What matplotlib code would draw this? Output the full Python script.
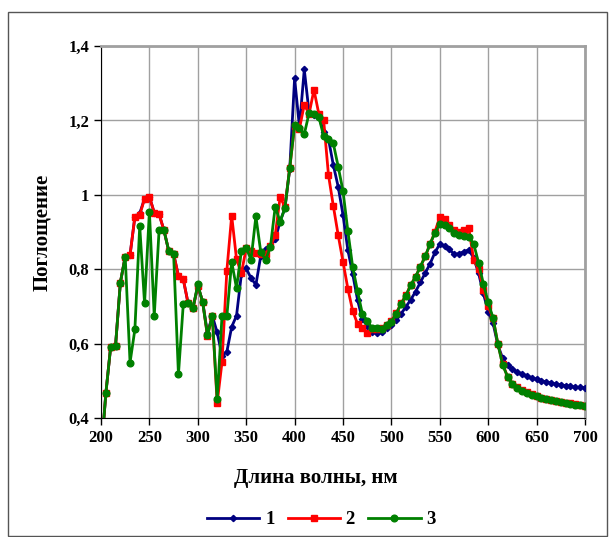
# -*- coding: utf-8 -*-
'''
Спектры поглощения трёх образцов (1, 2, 3), 200-700 нм
'''
import numpy as np
import matplotlib.pyplot as plt
from matplotlib.patches import Rectangle
from matplotlib.ticker import FuncFormatter

# длина волны, нм
WaveLen = np.arange(200, 705, 5)

# образец 1
Absorb1 = [0.30, 0.466, 0.592, 0.594, 0.764, 0.834, 0.838, 0.941, 0.95, 0.99,
           0.995, 0.952, 0.948, 0.905, 0.849, 0.841, 0.782, 0.773, 0.708, 0.695,
           0.755, 0.713, 0.628, 0.675, 0.63, 0.568, 0.578, 0.645, 0.675, 0.786,
           0.802, 0.776, 0.758, 0.835, 0.855, 0.862, 0.88, 0.928, 0.964, 1.07,
           1.313, 1.183, 1.337, 1.22, 1.215, 1.21, 1.17, 1.15, 1.08, 1.022,
           0.946, 0.852, 0.787, 0.718, 0.665, 0.648, 0.632, 0.628, 0.632, 0.641,
           0.65, 0.663, 0.68, 0.699, 0.718, 0.74, 0.765, 0.79, 0.815, 0.845,
           0.868, 0.862, 0.853, 0.84, 0.842, 0.847, 0.852, 0.83, 0.79, 0.735,
           0.686, 0.655, 0.596, 0.56, 0.542, 0.531, 0.524, 0.518, 0.513, 0.508,
           0.504, 0.5, 0.497, 0.494, 0.491, 0.489, 0.487, 0.485, 0.483, 0.482,
           0.481]
# образец 2
Absorb2 = [0.30, 0.466, 0.592, 0.594, 0.764, 0.834, 0.838, 0.941, 0.945, 0.99,
           0.995, 0.952, 0.948, 0.905, 0.849, 0.841, 0.782, 0.773, 0.708, 0.695,
           0.755, 0.713, 0.62, 0.675, 0.44, 0.55, 0.796, 0.944, 0.827, 0.789,
           0.856, 0.85, 0.844, 0.841, 0.84, 0.862, 0.892, 0.993, 0.968, 1.072,
           1.186, 1.178, 1.242, 1.218, 1.282, 1.218, 1.201, 1.053, 0.97, 0.892,
           0.82, 0.748, 0.688, 0.653, 0.641, 0.629, 0.638, 0.64, 0.642, 0.651,
           0.662, 0.682, 0.708, 0.73, 0.758, 0.78, 0.807, 0.835, 0.868, 0.9,
           0.941, 0.935, 0.92, 0.905, 0.9, 0.905, 0.91, 0.825, 0.8, 0.745,
           0.7, 0.668, 0.599, 0.545, 0.511, 0.491, 0.482, 0.475, 0.469, 0.464,
           0.459, 0.455, 0.452, 0.449, 0.446, 0.443, 0.441, 0.439, 0.437, 0.435,
           0.433]
# образец 3
Absorb3 = [0.30, 0.466, 0.592, 0.594, 0.764, 0.834, 0.549, 0.638, 0.916, 0.708,
           0.955, 0.674, 0.905, 0.905, 0.849, 0.841, 0.517, 0.706, 0.708, 0.695,
           0.759, 0.711, 0.622, 0.675, 0.45, 0.674, 0.674, 0.82, 0.749, 0.849,
           0.858, 0.825, 0.942, 0.847, 0.825, 0.86, 0.968, 0.928, 0.964, 1.073,
           1.188, 1.179, 1.163, 1.22, 1.217, 1.21, 1.158, 1.149, 1.138, 1.076,
           1.01, 0.903, 0.806, 0.741, 0.68, 0.662, 0.641, 0.641, 0.638, 0.65,
           0.659, 0.68, 0.707, 0.729, 0.757, 0.78, 0.807, 0.835, 0.868, 0.898,
           0.921, 0.919, 0.91, 0.898, 0.892, 0.888, 0.887, 0.868, 0.818, 0.761,
           0.711, 0.669, 0.599, 0.542, 0.511, 0.491, 0.48, 0.473, 0.467, 0.462,
           0.458, 0.454, 0.451, 0.448, 0.445, 0.443, 0.44, 0.438, 0.436, 0.434,
           0.432]

SeriesNames = ['1', '2', '3']

plt.rcParams['font.family'] = ['Liberation Serif', 'DejaVu Serif']
plt.rcParams['font.weight'] = 'bold'

fig = plt.figure(figsize=(6.11, 5.37), dpi=100)
# рамка области диаграммы
fig.patches.append(Rectangle((8 / 611, 1 / 537), 599 / 611, 524 / 537,
                             transform=fig.transFigure, fill=False,
                             edgecolor='#555555', linewidth=1))
ax = fig.add_axes([101 / 611, 1 - 418 / 537, 484 / 611, 372 / 537])

# кривые
ax.plot(WaveLen, Absorb1, c='#000080', marker='D', markersize=3.2,
        linewidth=2, label=SeriesNames[0], zorder=3)
ax.plot(WaveLen, Absorb2, c='#ff0000', marker='s', markersize=4.6,
        linewidth=2, label=SeriesNames[1], zorder=4)
ax.plot(WaveLen, Absorb3, c='#008000', marker='o', markersize=4.8,
        linewidth=2, label=SeriesNames[2], zorder=5)

ax.set_xlim(200, 700)
ax.set_ylim(0.4, 1.4)
ax.set_xticks(np.arange(200, 701, 50))
ax.set_yticks(np.arange(0.4, 1.41, 0.2))
ax.yaxis.set_major_formatter(
    FuncFormatter(lambda v, p: ('%g' % round(v, 1)).replace('.', ',')))
ax.grid(True, color='#a0a0a0', linewidth=1)
ax.set_axisbelow(True)
ax.tick_params(direction='out', length=5, width=1, labelsize=12, colors='black')
for lab in ax.get_xticklabels() + ax.get_yticklabels():
    lab.set_fontweight('bold')

ax.spines['left'].set_color('black')
ax.spines['bottom'].set_color('black')
ax.spines['top'].set_color('#a0a0a0')
ax.spines['right'].set_color('#a0a0a0')
ax.spines['top'].set_linewidth(2)
ax.spines['right'].set_linewidth(2)

ax.set_xlabel('Длина волны, нм', fontsize=15, fontweight='bold', labelpad=16)
ax.xaxis.set_label_coords(0.444, -0.135)
ax.set_ylabel('Поглощение', fontsize=15, fontweight='bold', labelpad=12)

ax.legend(loc='upper center', bbox_to_anchor=(0.455, -0.23), ncol=3,
          frameon=False, fontsize=13.5, handlelength=2.8, columnspacing=0.7,
          handletextpad=0.3, borderaxespad=0)

plt.savefig('out.png', dpi=100)
plt.close()
